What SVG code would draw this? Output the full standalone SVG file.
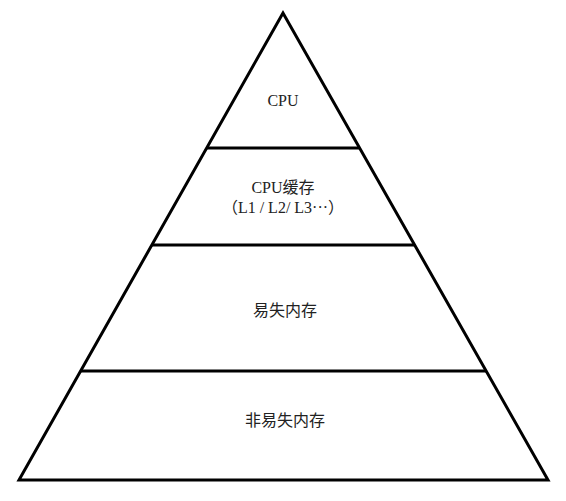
<svg xmlns="http://www.w3.org/2000/svg" width="566" height="501" viewBox="0 0 566 501">
<style>
.edge{stroke:#000;stroke-width:3;fill:none;stroke-linejoin:miter}
.lbl{font-family:"Liberation Serif","Noto Sans CJK SC",serif;font-size:16px;fill:#222;text-anchor:middle}
</style>
<rect width="566" height="501" fill="#fff"/>
<g id="connectors">
<polygon class="edge" points="283,13 19,480 548,480"/>
<line class="edge" x1="207" y1="148" x2="359" y2="148"/>
<line class="edge" x1="152" y1="245" x2="414" y2="245"/>
<line class="edge" x1="81" y1="371" x2="486" y2="371"/>
</g>
<g id="cpu"><text class="lbl" x="283" y="106">CPU</text></g>
<g id="cache"><text class="lbl" x="283" y="193">CPU缓存</text><text class="lbl" x="283" y="213">（L1 / L2/ L3···）</text></g>
<g id="volatile"><text class="lbl" x="285" y="316">易失内存</text></g>
<g id="nonvolatile"><text class="lbl" x="285" y="426">非易失内存</text></g>
</svg>
